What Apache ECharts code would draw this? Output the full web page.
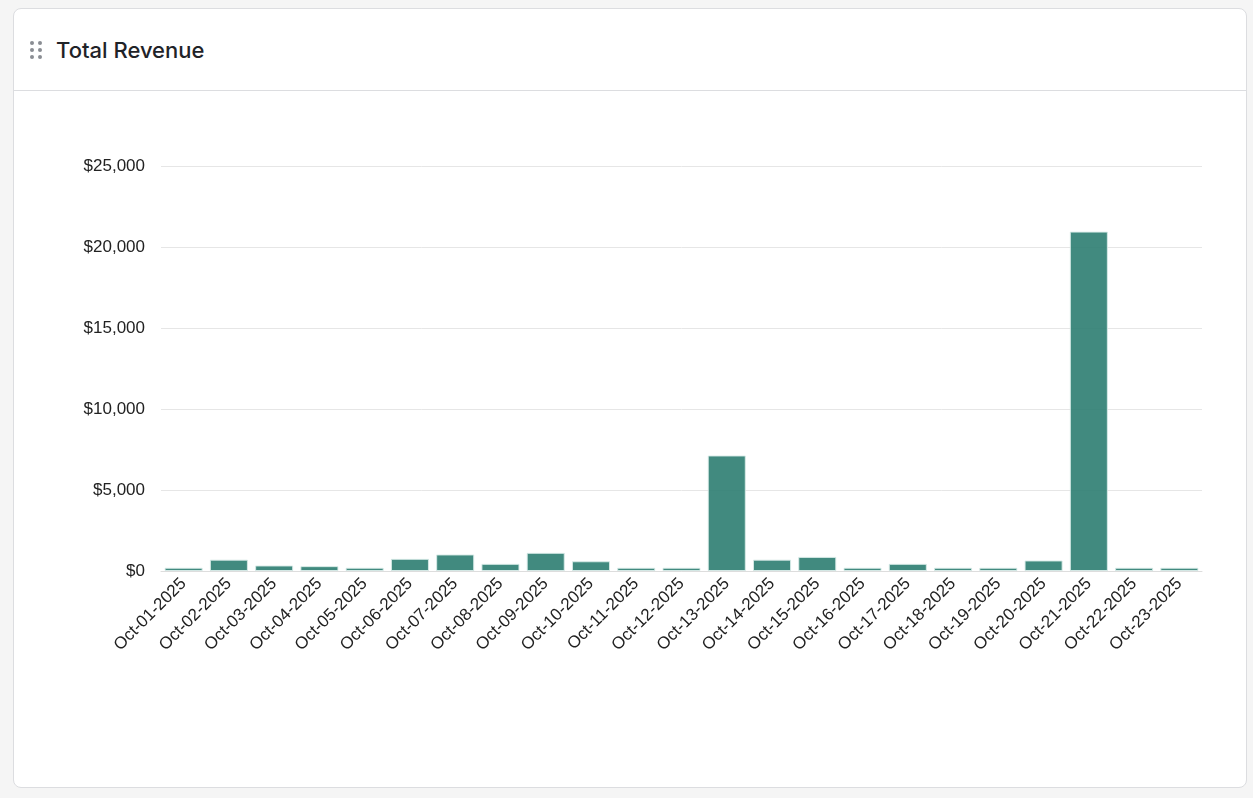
<!DOCTYPE html>
<html>
<head>
<meta charset="utf-8">
<script src="https://cdn.jsdelivr.net/npm/echarts@6/dist/echarts.min.js"></script>
<style>
body{margin:0;background:#f5f5f5;font-family:"Inter","Noto Sans",sans-serif;}
.card{position:absolute;left:13px;top:8px;width:1232px;height:778px;background:#fff;border:1px solid #dcdde0;border-radius:8px;}
.head{height:81px;border-bottom:1px solid #dcdde0;display:flex;align-items:center;}
.grip{margin-left:16px;width:12px;display:grid;grid-template-columns:5px 5px;gap:3px 3px;}
.grip i{width:4px;height:4px;border-radius:2px;background:#8a8d93;display:block;}
.title{margin-left:14px;font-size:22px;color:#1f2328;font-weight:500;}
#charts{position:absolute;left:0;top:82px;width:1232px;height:696px;}
</style>
</head>
<body>
<div class="card">
	<div class="head"><div class="grip"><i></i><i></i><i></i><i></i><i></i><i></i></div><div class="title">Total Revenue</div></div>
	<div id="charts"></div>
</div>
<script>
var categories = ['Oct-01-2025','Oct-02-2025','Oct-03-2025','Oct-04-2025','Oct-05-2025','Oct-06-2025','Oct-07-2025','Oct-08-2025','Oct-09-2025','Oct-10-2025','Oct-11-2025','Oct-12-2025','Oct-13-2025','Oct-14-2025','Oct-15-2025','Oct-16-2025','Oct-17-2025','Oct-18-2025','Oct-19-2025','Oct-20-2025','Oct-21-2025','Oct-22-2025','Oct-23-2025'];
var revenue = [200,700,340,300,200,750,1020,440,1120,600,200,200,7130,700,870,200,440,200,200,650,20950,200,200];

var charts = echarts.init(document.getElementById('charts'));
var option = {
	animation: false,
	grid: {left: 147, right: 44, top: 75, bottom: 216},
	xAxis: {
		type: 'category',
		data: categories,
		axisLine: {lineStyle: {color: '#dddddd'}},
		axisTick: {lineStyle: {color: '#dddddd'}, length: 8},
		axisLabel: {rotate: 45, color: '#222', fontSize: 17, fontFamily: 'Liberation Sans', interval: 0, margin: 10}
	},
	yAxis: {
		type: 'value',
		min: 0, max: 25000, interval: 5000,
		axisLabel: {color: '#222', fontSize: 17, fontFamily: 'Liberation Sans', margin: 16,
			formatter: function (v) { return '$' + v.toLocaleString('en-US'); }},
		splitLine: {lineStyle: {color: '#e6e6e6'}}
	},
	series: [{
		type: 'bar',
		data: revenue,
		barCategoryGap: '16%',
		itemStyle: {color: '#2c7d71', opacity: 0.9, borderColor: '#d8ebe8', borderWidth: 1}
	}]
};
charts.setOption(option);
</script>
</body>
</html>
